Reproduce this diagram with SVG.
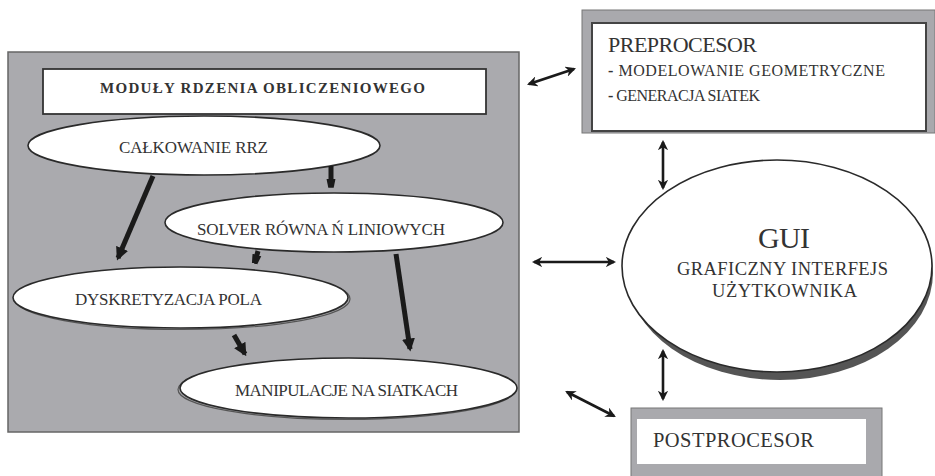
<svg xmlns="http://www.w3.org/2000/svg" width="935" height="476" viewBox="0 0 935 476">
<defs>
<style>
text{font-family:"Liberation Serif","Times New Roman",serif;fill:#333}
.el{fill:#fff;stroke:#2a2a2a;stroke-width:1.6}
.sh{fill:none;stroke:#555;stroke-width:1.2}
.thick{stroke:#1a1a1a;stroke-width:5;fill:none}
.dbl{stroke:#1a1a1a;stroke-width:2.6;fill:none}
</style>
<marker id="ah" viewBox="0 0 10 10" refX="8" refY="5" markerWidth="2.6" markerHeight="2.6" orient="auto" markerUnits="strokeWidth">
<path d="M0,0 L10,5 L0,10 Z" fill="#1a1a1a"/>
</marker>
<marker id="ahf" viewBox="0 0 10 10" refX="8" refY="5" markerWidth="1.8" markerHeight="3.4" orient="auto" markerUnits="strokeWidth">
<path d="M0,0 L10,2 L10,8 L0,10 Z" fill="#1a1a1a"/>
</marker>
<marker id="da" viewBox="0 0 10 10" refX="8" refY="5" markerWidth="4" markerHeight="4" orient="auto-start-reverse" markerUnits="strokeWidth">
<path d="M0,0 L10,5 L0,10 L3,5 Z" fill="#1a1a1a"/>
</marker>
</defs>

<g id="panel">
<rect x="8" y="52" width="511" height="380" fill="#aaaaae" stroke="#666" stroke-width="1.5"/>
</g>

<g id="title">
<rect x="43" y="69" width="443" height="45" fill="#fff" stroke="#333" stroke-width="1.8"/>
<text x="100" y="93" font-size="15" font-weight="bold" textLength="325" lengthAdjust="spacing">MODUŁY RDZENIA OBLICZENIOWEGO</text>
</g>

<g id="calkowanie">
<ellipse class="el" cx="204" cy="145.5" rx="176" ry="29.5"/>
<text x="119" y="153" font-size="17" textLength="149" lengthAdjust="spacing">CAŁKOWANIE RRZ</text>
</g>

<g id="solver">
<ellipse class="el" cx="334" cy="222.5" rx="169" ry="29.5"/>
<text x="197" y="235" font-size="17" textLength="248" lengthAdjust="spacing">SOLVER RÓWNA Ń LINIOWYCH</text>
</g>

<g id="dyskretyzacja">
<ellipse class="sh" cx="182.5" cy="299" rx="167.5" ry="30.5"/>
<ellipse class="el" cx="180.5" cy="297.5" rx="167.5" ry="30.5"/>
<text x="75" y="305" font-size="17" textLength="187" lengthAdjust="spacing">DYSKRETYZACJA POLA</text>
</g>

<g id="manipulacje">
<ellipse class="sh" cx="346.5" cy="389.5" rx="168.5" ry="30"/>
<ellipse class="el" cx="348.5" cy="388" rx="168.5" ry="30"/>
<text x="235" y="396" font-size="17" textLength="223" lengthAdjust="spacing">MANIPULACJE NA SIATKACH</text>
</g>

<g id="preprocesor">
<rect x="582" y="10" width="353" height="123" fill="#a9a9ad" stroke="#777" stroke-width="1"/>
<rect x="592" y="23" width="334" height="108" fill="#fff" stroke="#444" stroke-width="2"/>
<text x="608" y="52" font-size="22" textLength="149" lengthAdjust="spacing">PREPROCESOR</text>
<text x="608" y="76" font-size="16" textLength="277" lengthAdjust="spacing"><tspan font-weight="bold">-</tspan> MODELOWANIE GEOMETRYCZNE</text>
<text x="608" y="101" font-size="16" textLength="152" lengthAdjust="spacing"><tspan font-weight="bold">-</tspan> GENERACJA SIATEK</text>
</g>

<g id="gui">
<ellipse cx="780" cy="273" rx="153" ry="107" fill="#555"/>
<ellipse cx="777" cy="266" rx="155" ry="106" fill="#fff" stroke="#2a2a2a" stroke-width="1.6"/>
<text x="758" y="248" font-size="30" textLength="52" lengthAdjust="spacing">GUI</text>
<text x="677" y="275" font-size="18.5" textLength="211" lengthAdjust="spacing">GRAFICZNY INTERFEJS</text>
<text x="712" y="297" font-size="18.5" textLength="145" lengthAdjust="spacing">UŻYTKOWNIKA</text>
</g>

<g id="postprocesor">
<rect x="631" y="408" width="251" height="70" fill="#a9a9ad" stroke="#777" stroke-width="1"/>
<rect x="637" y="419" width="229" height="45" fill="#fff"/>
<text x="653" y="447" font-size="20.5" textLength="161" lengthAdjust="spacing">POSTPROCESOR</text>
</g>

<g id="connectors">
<line class="thick" x1="153" y1="176" x2="118" y2="258" marker-end="url(#ah)"/>
<line class="thick" x1="331" y1="166" x2="331" y2="186" marker-end="url(#ahf)"/>
<line class="thick" x1="258" y1="251" x2="255" y2="262" marker-end="url(#ahf)"/>
<line class="thick" x1="396" y1="254" x2="410" y2="349" marker-end="url(#ah)"/>
<line class="thick" x1="234" y1="335" x2="245" y2="354" marker-end="url(#ah)"/>
<line class="dbl" x1="529" y1="84" x2="574" y2="69" marker-start="url(#da)" marker-end="url(#da)"/>
<line class="dbl" x1="663" y1="142" x2="663" y2="188" marker-start="url(#da)" marker-end="url(#da)"/>
<line class="dbl" x1="534" y1="262" x2="614" y2="262" marker-start="url(#da)" marker-end="url(#da)"/>
<line class="dbl" x1="663" y1="351" x2="663" y2="399" marker-start="url(#da)" marker-end="url(#da)"/>
<line class="dbl" x1="567" y1="392" x2="614" y2="416" marker-start="url(#da)" marker-end="url(#da)"/>
</g>
</svg>
